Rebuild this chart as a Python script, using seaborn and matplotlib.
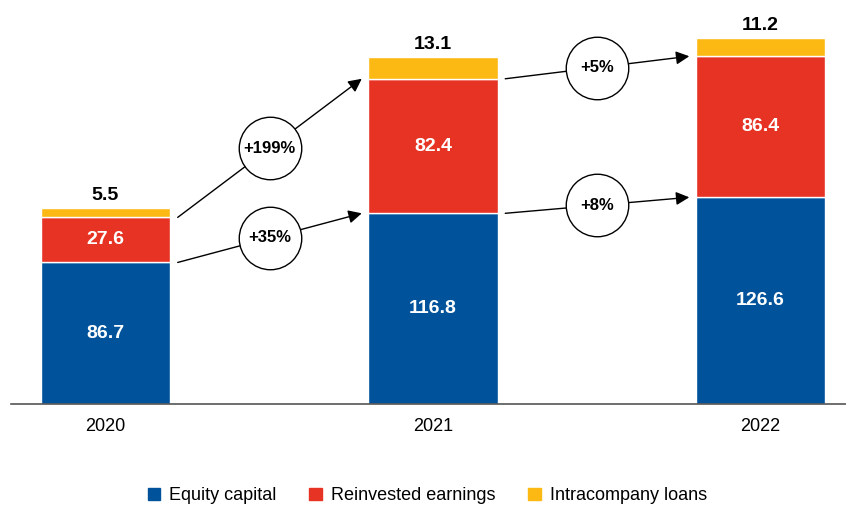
import matplotlib
matplotlib.use("Agg")
import matplotlib.pyplot as plt
import matplotlib.patches as mpatches
import numpy as np
import seaborn as sns

years = ["2020", "2021", "2022"]
equity = [86.7, 116.8, 126.6]
reinvested = [27.6, 82.4, 86.4]
loans = [5.5, 13.1, 11.2]

series_names = ["Equity capital", "Reinvested earnings", "Intracompany loans"]
colors = ["#00529B", "#E63323", "#FDB913"]

sns.set_style("white")
plt.rcParams["font.family"] = ["Liberation Sans", "DejaVu Sans"]
plt.rcParams["text.color"] = "black"
plt.rcParams["xtick.color"] = "black"

fig = plt.figure(figsize=(8.46, 5.13), dpi=100)
ax = fig.add_axes([11 / 846, 109 / 513, 835 / 846, 400 / 513])

bw = 0.395
eq = np.array(equity)
re = np.array(reinvested)
lo = np.array(loans)
bottoms = [np.zeros(3), eq, eq + re]
for vals, bot, col in zip([eq, re, lo], bottoms, colors):
    sns.barplot(x=years, y=vals, bottom=bot, color=col, width=bw,
                edgecolor="white", linewidth=1, saturation=1, ax=ax)

# value labels
for i in range(3):
    ax.text(i, eq[i] / 2, f"{eq[i]:.1f}", ha="center", va="center",
            color="white", fontsize=14, fontweight="bold")
    ax.text(i, eq[i] + re[i] / 2, f"{re[i]:.1f}", ha="center", va="center",
            color="white", fontsize=14, fontweight="bold")
    ax.text(i, eq[i] + re[i] + lo[i] + 2.5, f"{lo[i]:.1f}", ha="center", va="bottom",
            color="black", fontsize=14, fontweight="bold")

# growth arrows
tops_eq = eq
tops_re = eq + re
for i in range(2):
    for tops, vals in [(tops_re, re), (tops_eq, eq)]:
        x0 = i + bw / 2 + 0.023
        x1 = i + 1 - bw / 2 - 0.02
        y0, y1 = tops[i], tops[i + 1]
        ax.annotate("", xy=(x1, y1), xytext=(x0, y0),
                    arrowprops=dict(arrowstyle="-|>", color="black", lw=1,
                                    mutation_scale=20, shrinkA=0, shrinkB=0))
        xm, ym = (x0 + x1) / 2, (y0 + y1) / 2
        ax.scatter([xm], [ym], s=45 ** 2, facecolor="white", edgecolor="black",
                   linewidth=1, zorder=5)
        pct = round((vals[i + 1] / vals[i] - 1) * 100)
        ax.text(xm, ym, f"+{pct}%", ha="center", va="center", fontsize=12,
                fontweight="bold", zorder=6)

ax.set_xlim(-0.2885, 2.261)
ax.set_ylim(0, 245)
ax.set_yticks([])
ax.set_xlabel("")
ax.set_ylabel("")
for s in ["top", "right", "left"]:
    ax.spines[s].set_visible(False)
ax.spines["bottom"].set_color("#555555")
ax.spines["bottom"].set_linewidth(1.2)
ax.tick_params(axis="x", length=0, pad=10, labelsize=13)

handles = [mpatches.Patch(color=c, label=n) for c, n in zip(colors, series_names)]
fig.legend(handles=handles, loc="lower center", bbox_to_anchor=(0.505, -0.015),
           ncol=3, frameon=False, fontsize=13, handlelength=0.7, handleheight=0.7,
           columnspacing=1.8, handletextpad=0.5)

fig.savefig("out.png", dpi=100)
